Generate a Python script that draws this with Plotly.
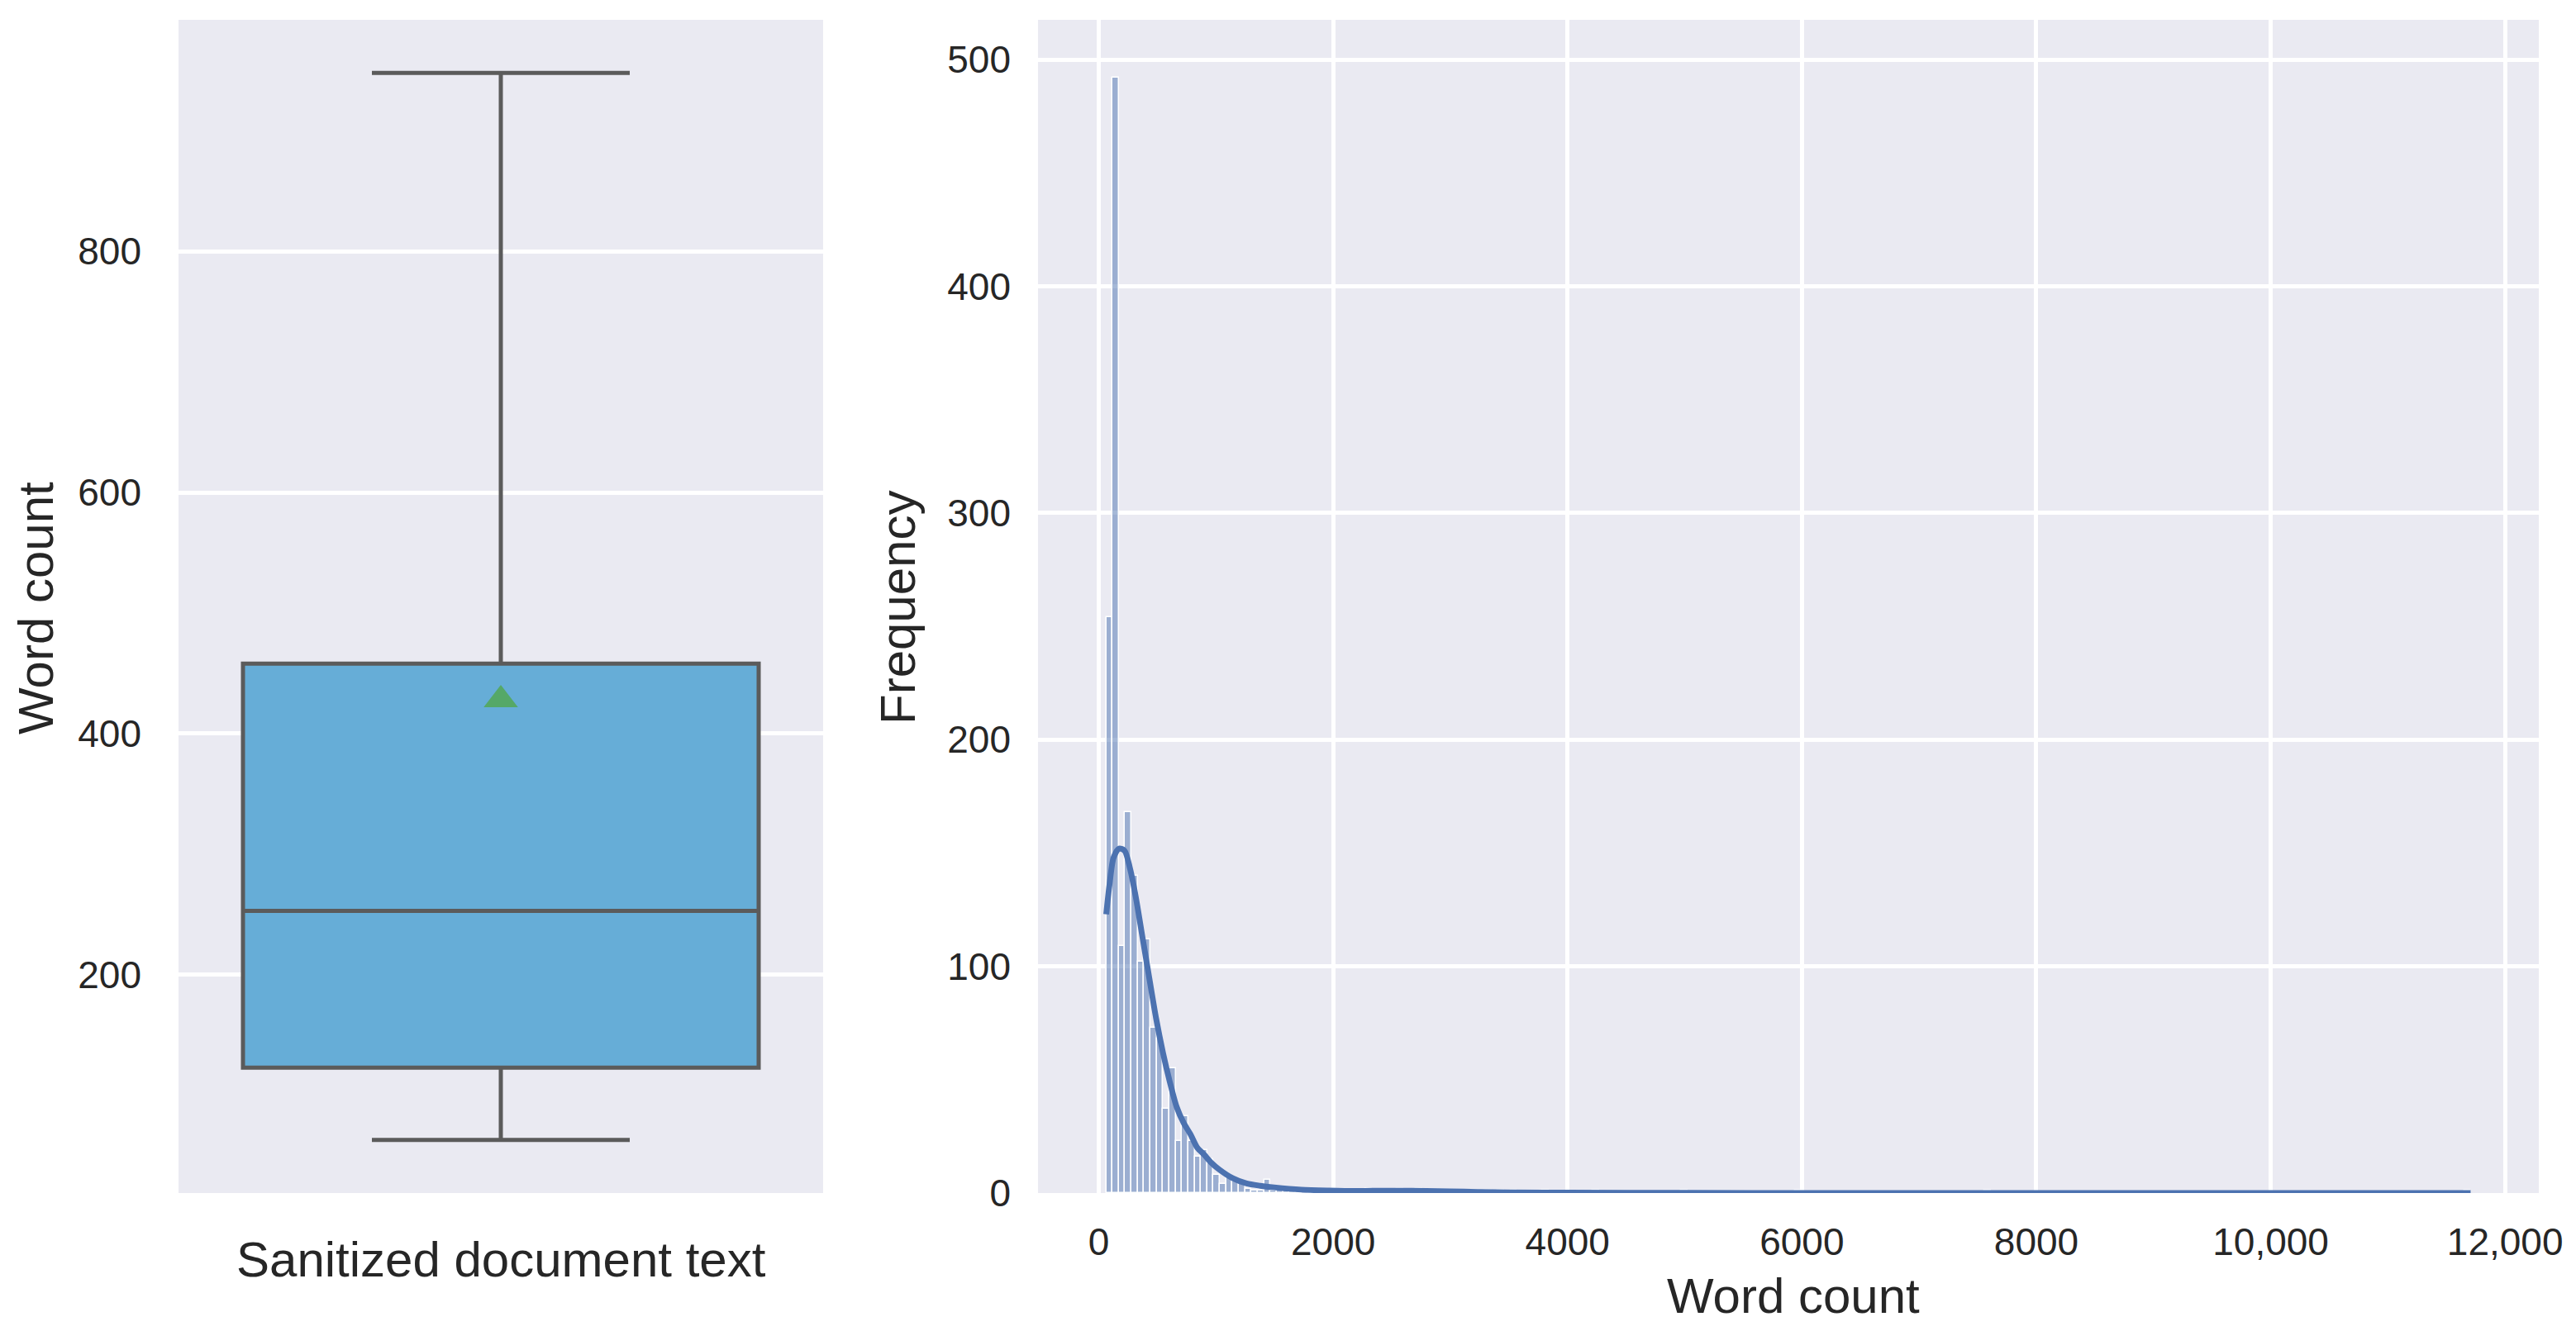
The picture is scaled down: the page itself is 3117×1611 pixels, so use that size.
import plotly.graph_objects as go

W, H = 3117, 1611

# ---------------- Data ----------------
# Box plot (word count of sanitized document text), fliers hidden
box_category = ["Sanitized document text"]
box_q1 = [123]
box_median = [253]
box_q3 = [458]
box_lower = [63]
box_upper = [948]
box_mean = [428]

# Histogram of word count (bins of equal width starting at data minimum)
bin_start = 63
bin_width = 53.9
n_bins = 216
hist_counts = [254, 492, 109, 168, 140, 102, 112, 73, 68, 37,
               55, 23, 34, 23, 16, 19, 15, 8, 4, 7,
               5, 4, 2, 1, 1, 6, 1, 1, 1, 1,
               1, 0, 1, 1, 0, 1, 1, 0, 1, 1,
               1, 2, 1, 1, 1, 1, 2, 1, 1, 2,
               1, 1, 0, 1, 1, 0, 1, 0, 1, 0,
               1, 0, 1, 0, 1]
tail_bin_index = [69, 77, 91, 109, 139, 215]
tail_counts = [1, 1, 1, 1, 1, 1]

# KDE curve (scaled to counts)
kde_x = [63, 91, 126, 173, 220, 267, 314, 372, 430, 489, 547, 606, 664, 723,
         781, 840, 898, 957, 1027, 1144, 1261, 1378, 1495, 1727, 1963, 2200,
         2330, 2550, 2793, 2990, 3236, 3481, 4000, 5000, 6000, 8000, 10000, 11706]
kde_y = [123, 136, 148, 152, 151, 143, 131, 113, 95, 77, 62, 49, 38, 31,
         26, 20, 17, 13.5, 10.4, 6.5, 4.2, 3.2, 2.5, 1.5, 1.1, 0.9,
         1.0, 1.0, 0.9, 0.7, 0.5, 0.3, 0.15, 0.06, 0.03, 0.02, 0.01, 0.01]

x2_tickvals = [0, 2000, 4000, 6000, 8000, 10000, 12000]
x2_ticktext = ["0", "2000", "4000", "6000", "8000", "10,000", "12,000"]
y1_tickvals = [200, 400, 600, 800]
y2_tickvals = [0, 100, 200, 300, 400, 500]

# ---------------- Build ----------------
counts = hist_counts + [0] * (n_bins - len(hist_counts))
for i, c in zip(tail_bin_index, tail_counts):
    counts[i] = c
bar_x = [bin_start + (i + 0.5) * bin_width for i, c in enumerate(counts) if c > 0]
bar_y = [c for c in counts if c > 0]

FONT = "Liberation Sans, Arial, Helvetica, sans-serif"
TXT = "#262626"
BG = "#EAEAF2"

fig = go.Figure()

fig.add_trace(go.Box(
    x=[0], q1=box_q1, median=box_median, q3=box_q3,
    lowerfence=box_lower, upperfence=box_upper,
    width=0.8, whiskerwidth=0.5,
    fillcolor="#66ADD7", line=dict(color="#5B5B5B", width=5),
    boxpoints=False, showlegend=False, hoverinfo="skip",
    xaxis="x", yaxis="y",
))
fig.add_trace(go.Scatter(
    x=[0], y=box_mean, mode="markers",
    marker=dict(symbol="triangle-up", size=36, color="#55A868", line=dict(width=0)),
    showlegend=False, xaxis="x", yaxis="y",
))

fig.add_trace(go.Bar(
    x=bar_x, y=bar_y, width=bin_width,
    marker=dict(color="rgba(76,114,176,0.5)", line=dict(color="white", width=1.5)),
    showlegend=False, xaxis="x2", yaxis="y2",
))
fig.add_trace(go.Scatter(
    x=kde_x, y=kde_y, mode="lines",
    line=dict(color="#4C72B0", width=7, shape="spline", smoothing=0.8),
    showlegend=False, xaxis="x2", yaxis="y2",
))

ydom = [1 - 1444 / H, 1 - 24 / H]
tickfont = dict(family=FONT, size=46, color=TXT)

fig.update_layout(
    width=W, height=H,
    margin=dict(l=0, r=0, t=0, b=0, autoexpand=False),
    paper_bgcolor="white", plot_bgcolor=BG,
    bargap=0,
    xaxis=dict(domain=[216 / W, 996 / W], range=[-0.5, 0.5], showticklabels=False,
               showgrid=False, zeroline=False, showline=False, fixedrange=True,
               automargin=False),
    yaxis=dict(domain=ydom, range=[19, 992], tickvals=y1_tickvals,
               showgrid=True, gridcolor="white", gridwidth=5, zeroline=False,
               showline=False, ticks="", tickfont=tickfont, ticklabelstandoff=44,
               automargin=False),
    xaxis2=dict(domain=[1256 / W, 3072 / W], range=[-519, 12288], anchor="y2",
                tickvals=x2_tickvals, ticktext=x2_ticktext,
                showgrid=True, gridcolor="white", gridwidth=5, zeroline=False,
                showline=False, ticks="", tickfont=tickfont, ticklabelstandoff=28,
                automargin=False),
    yaxis2=dict(domain=ydom, range=[0, 517.6], anchor="x2", tickvals=y2_tickvals,
                showgrid=True, gridcolor="white", gridwidth=5, zeroline=False,
                showline=False, ticks="", tickfont=tickfont, ticklabelstandoff=32,
                automargin=False),
)

labfont = dict(family=FONT, size=60, color=TXT)
ann = [
    dict(text="Word count", x=44 / W, y=1 - 736 / H, textangle=-90),
    dict(text=box_category[0], x=606 / W, y=1 - 1524 / H, textangle=0),
    dict(text="Frequency", x=1087 / W, y=1 - 736 / H, textangle=-90),
    dict(text="Word count", x=2170 / W, y=1 - 1568 / H, textangle=0),
]
for a in ann:
    fig.add_annotation(xref="paper", yref="paper", showarrow=False,
                       xanchor="center", yanchor="middle", font=labfont, **a)

fig.write_html(
    "out.html",
    config={"displayModeBar": False},
    post_script=(
        "document.documentElement.style.margin='0';"
        "document.documentElement.style.overflow='hidden';"
        "document.body.style.margin='0';"
        "document.body.style.overflow='hidden';"
    ),
)
